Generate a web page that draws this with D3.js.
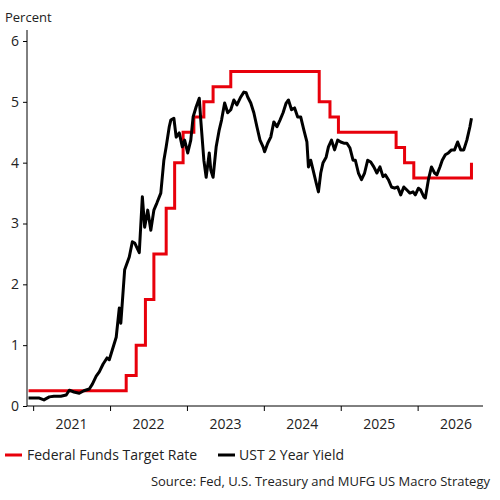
<!DOCTYPE html>
<html><head><meta charset="utf-8">
<script src="https://cdn.jsdelivr.net/npm/d3@7"></script>
<style>body{margin:0;background:#fff}text{font-family:"Open Sans",sans-serif;fill:#222}</style>
</head><body><svg id="c" width="500" height="500"></svg>
<script>
const yearTicks = [2021, 2022, 2023, 2024, 2025, 2026];
const yTicks = [0, 1, 2, 3, 4, 5, 6];
const fedDates = [2020.94,2022.21,2022.34,2022.46,2022.57,2022.73,2022.84,2022.95,2023.09,2023.22,2023.34,2023.57,2024.72,2024.86,2024.97,2025.72,2025.83,2025.95,2026.70,2026.70];
const fedRate  = [0.25,0.5,1.0,1.75,2.5,3.25,4.0,4.5,4.75,5.0,5.25,5.5,5.0,4.75,4.5,4.25,4.0,3.75,3.75,4.0];
const ustDates = [2020.94,2021.08,2021.14,2021.21,2021.27,2021.36,2021.43,2021.47,2021.53,2021.60,2021.66,2021.73,2021.77,2021.82,2021.86,2021.91,2021.96,2021.99,2022.08,2022.12,2022.14,2022.19,2022.25,2022.29,2022.32,2022.38,2022.42,2022.45,2022.49,2022.53,2022.57,2022.61,2022.66,2022.70,2022.73,2022.77,2022.79,2022.83,2022.86,2022.90,2022.94,2022.97,2023.01,2023.05,2023.08,2023.12,2023.16,2023.18,2023.22,2023.25,2023.29,2023.31,2023.34,2023.38,2023.42,2023.45,2023.49,2023.53,2023.57,2023.61,2023.65,2023.70,2023.74,2023.77,2023.79,2023.83,2023.87,2023.91,2023.95,2023.99,2024.01,2024.05,2024.09,2024.13,2024.17,2024.21,2024.25,2024.29,2024.32,2024.36,2024.40,2024.44,2024.48,2024.52,2024.56,2024.58,2024.61,2024.64,2024.68,2024.71,2024.74,2024.77,2024.81,2024.84,2024.88,2024.92,2024.96,2025.00,2025.04,2025.08,2025.12,2025.16,2025.19,2025.23,2025.27,2025.31,2025.35,2025.39,2025.43,2025.47,2025.51,2025.55,2025.58,2025.62,2025.66,2025.70,2025.74,2025.78,2025.82,2025.86,2025.90,2025.94,2025.97,2026.01,2026.04,2026.08,2026.10,2026.14,2026.18,2026.22,2026.25,2026.29,2026.32,2026.36,2026.40,2026.44,2026.48,2026.52,2026.56,2026.60,2026.64,2026.68,2026.70];
const ustYield = [0.13,0.13,0.10,0.15,0.16,0.16,0.18,0.26,0.23,0.21,0.25,0.28,0.36,0.49,0.56,0.69,0.79,0.76,1.13,1.61,1.36,2.24,2.45,2.70,2.68,2.52,3.44,2.94,3.22,2.89,3.22,3.34,3.50,4.04,4.26,4.59,4.70,4.73,4.42,4.49,4.26,4.37,4.16,4.37,4.75,4.92,5.06,4.70,4.04,3.76,4.16,3.88,3.76,4.26,4.54,4.70,4.98,4.82,4.87,5.03,4.95,5.08,5.16,5.15,5.08,4.98,4.82,4.59,4.37,4.26,4.18,4.32,4.42,4.67,4.59,4.70,4.82,4.98,5.03,4.87,4.90,4.75,4.75,4.54,4.34,3.93,4.04,3.88,3.67,3.52,3.83,4.00,4.09,4.26,4.37,4.21,4.37,4.34,4.32,4.32,4.24,4.04,4.04,3.83,3.72,3.83,4.04,4.01,3.93,3.83,3.93,3.77,3.80,3.72,3.60,3.58,3.60,3.47,3.60,3.55,3.50,3.52,3.47,3.58,3.55,3.44,3.42,3.72,3.93,3.83,3.80,3.93,4.04,4.13,4.16,4.21,4.21,4.34,4.21,4.21,4.37,4.59,4.73];
const seriesNames = ["Federal Funds Target Rate", "UST 2 Year Yield"];
const colors = ["#e8000b", "#000000"];

const svg = d3.select("#c");
const x = d3.scaleLinear().domain([2020.92, 2026.85]).range([27, 483]);
const y = d3.scaleLinear().domain([0, 6]).range([406, 41]);

// axes
const gx = svg.append("g").attr("transform", "translate(0,406)")
  .call(d3.axisBottom(x).tickValues(yearTicks).tickSize(5).tickFormat(""));
gx.select(".domain").attr("d", "M27,0H483");
gx.selectAll("line").attr("stroke", "#000");
svg.append("g").selectAll("text").data(yearTicks).join("text")
  .attr("x", d => x(d + 0.5)).attr("y", 429).attr("text-anchor", "middle")
  .attr("font-size", 14).text(d => d);
const gy = svg.append("g").attr("transform", "translate(27,0)")
  .call(d3.axisLeft(y).tickValues(yTicks).tickSize(4).tickFormat(d3.format("d")));
gy.select(".domain").attr("d", "M0,406V30");
gy.selectAll("text").attr("font-size", 14).attr("x", -8);
svg.append("text").attr("x", 5).attr("y", 22).attr("font-size", 13).text("Percent");

const fed = fedDates.map((d, i) => [d, fedRate[i]]);
const ust = ustDates.map((d, i) => [d, ustYield[i]]);
svg.append("path").datum(fed).attr("fill", "none").attr("stroke", colors[0]).attr("stroke-width", 3)
  .attr("d", d3.line().x(d => x(d[0])).y(d => y(d[1])).curve(d3.curveStepAfter));
svg.append("path").datum(ust).attr("fill", "none").attr("stroke", colors[1]).attr("stroke-width", 3)
  .attr("stroke-linejoin", "round")
  .attr("d", d3.line().x(d => x(d[0])).y(d => y(d[1])));

// legend
const lg = [[5, 27], [218, 239]];
seriesNames.forEach((n, i) => {
  svg.append("line").attr("x1", lg[i][0]).attr("x2", lg[i][0] + 17).attr("y1", 455).attr("y2", 455)
    .attr("stroke", colors[i]).attr("stroke-width", 3);
  svg.append("text").attr("x", lg[i][1]).attr("y", 460).attr("font-size", 14).text(n);
});
svg.append("text").attr("x", 490).attr("y", 486).attr("text-anchor", "end").attr("font-size", 13)
  .text("Source: Fed, U.S. Treasury and MUFG US Macro Strategy");
</script></body></html>
